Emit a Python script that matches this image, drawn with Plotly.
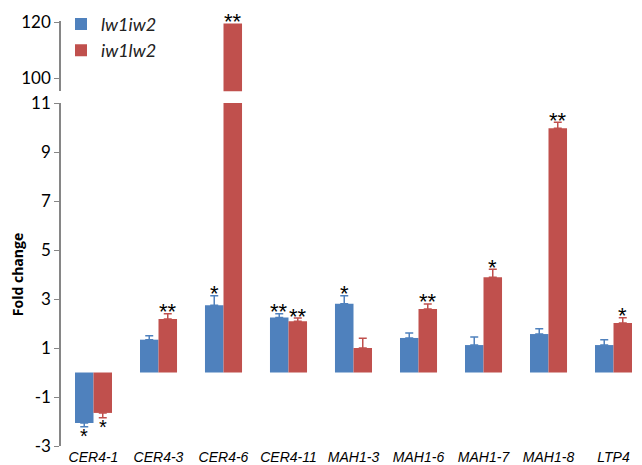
import plotly.graph_objects as go

categories = ["CER4-1", "CER4-3", "CER4-6", "CER4-11", "MAH1-3", "MAH1-6", "MAH1-7", "MAH1-8", "LTP4"]
lw1iw2 = [-2.06, 1.34, 2.75, 2.25, 2.81, 1.41, 1.12, 1.57, 1.12]
lw1iw2_err = [0.15, 0.16, 0.38, 0.15, 0.32, 0.20, 0.33, 0.22, 0.22]
iw1lw2 = [-1.65, 2.18, 119.5, 2.09, 1.00, 2.59, 3.89, 9.97, 2.02]
iw1lw2_err = [0.20, 0.22, 0.0, 0.13, 0.40, 0.21, 0.32, 0.25, 0.22]
sig_lw1iw2 = ["*", "", "*", "**", "*", "", "", "", ""]
sig_iw1lw2 = ["*", "**", "**", "**", "", "**", "*", "**", "*"]
yticks_low = [-3, -1, 1, 3, 5, 7, 9, 11]
yticks_high = [100, 120]

BLUE = "#4F81BD"
RED = "#C0504D"
GREY = "#868686"

low_range = [-3, 11]
high_range = [95.4, 120.4]
low_domain = [0.0, 0.807]
high_domain = [0.835, 1.0]
bw = 0.285
xpos = list(range(len(categories)))

def err_plus(vals, errs):
    return [e if v >= 0 else 0 for v, e in zip(vals, errs)]

def err_minus(vals, errs):
    return [e if v < 0 else 0 for v, e in zip(vals, errs)]

fig = go.Figure()
for name, vals, errs, color, off in [("lw1iw2", lw1iw2, lw1iw2_err, BLUE, -bw), ("iw1lw2", iw1lw2, iw1lw2_err, RED, 0.0)]:
    fig.add_trace(go.Bar(
        x=xpos, y=vals, name=name, width=bw, offset=off,
        marker=dict(color=color, line=dict(width=0)),
        error_y=dict(type="data", symmetric=False, array=err_plus(vals, errs),
                     arrayminus=err_minus(vals, errs), color=color, thickness=1.5, width=4),
        xaxis="x", yaxis="y",
    ))
# upper segment of the broken axis (same red series)
fig.add_trace(go.Bar(
    x=xpos, y=iw1lw2, name="iw1lw2", width=bw, offset=0.0, showlegend=False,
    marker=dict(color=RED, line=dict(width=0)), xaxis="x", yaxis="y2",
))

annotations = []
for vals, errs, sigs, shift in [(lw1iw2, lw1iw2_err, sig_lw1iw2, -bw / 2), (iw1lw2, iw1lw2_err, sig_iw1lw2, bw / 2)]:
    for i, (v, e, s) in enumerate(zip(vals, errs, sigs)):
        if not s:
            continue
        if v > high_range[0]:
            yref, yv, ys, fs = "y2", v + e, 2, 22
        elif v >= 0:
            yref, yv, ys, fs = "y", v + e, 2, 22
        else:
            yref, yv, ys, fs = "y", v - e, -9, 20
        annotations.append(dict(
            x=i + shift, y=yv, xref="x", yref=yref, text=s, showarrow=False,
            yshift=ys, font=dict(family="Liberation Sans", size=fs, color="black"),
        ))

zero_pos = low_domain[0] + (low_domain[1] - low_domain[0]) * (0 - low_range[0]) / (low_range[1] - low_range[0])

fig.update_layout(
    width=642, height=465,
    margin=dict(l=53, r=4, t=13, b=27, autoexpand=False),
    plot_bgcolor="white", paper_bgcolor="white",
    barmode="overlay",
    showlegend=True,
    legend=dict(x=0.0, y=1.036, xanchor="left", yanchor="top",
                font=dict(family="Lato", size=18, style="italic", color="#222"),
                bgcolor="rgba(0,0,0,0)", tracegroupgap=0, itemwidth=30),
    xaxis=dict(range=[-0.5, len(categories) - 0.5], tickmode="array", tickvals=xpos, ticktext=categories,
               showline=False, ticks="", showgrid=False, zeroline=False, anchor="y", automargin=False,
               tickfont=dict(family="Liberation Sans", size=14, style="italic", color="black"),
               ticklabelstandoff=1),
    xaxis3=dict(range=[-0.5, len(categories) - 0.5], overlaying="x", anchor="free", position=zero_pos,
                tickmode="linear", tick0=-0.5, dtick=1, ticks="outside", ticklen=5, tickcolor=GREY,
                showline=True, linecolor=GREY, linewidth=1.5, showticklabels=False, showgrid=False,
                zeroline=False),
    yaxis=dict(domain=low_domain, range=low_range, tickmode="array", tickvals=yticks_low,
               ticktext=[str(t) for t in yticks_low], showline=True, linecolor=GREY, automargin=False,
               linewidth=1.5, ticks="outside", ticklen=5, tickcolor=GREY, showgrid=False, zeroline=False,
               tickfont=dict(family="Lato", size=17, color="black"), anchor="x",
               title=dict(text="<b>Fold change</b>", font=dict(family="Open Sans", size=14, color="black"),
                          standoff=17)),
    yaxis2=dict(domain=high_domain, range=high_range, tickmode="array", tickvals=yticks_high,
                ticktext=[str(t) for t in yticks_high], showline=True, linecolor=GREY, automargin=False,
                linewidth=1.5, ticks="outside", ticklen=5, tickcolor=GREY, showgrid=False, zeroline=False,
                tickfont=dict(family="Lato", size=17, color="black"), anchor="x"),
    annotations=annotations,
)

fig.write_html("out.html")
